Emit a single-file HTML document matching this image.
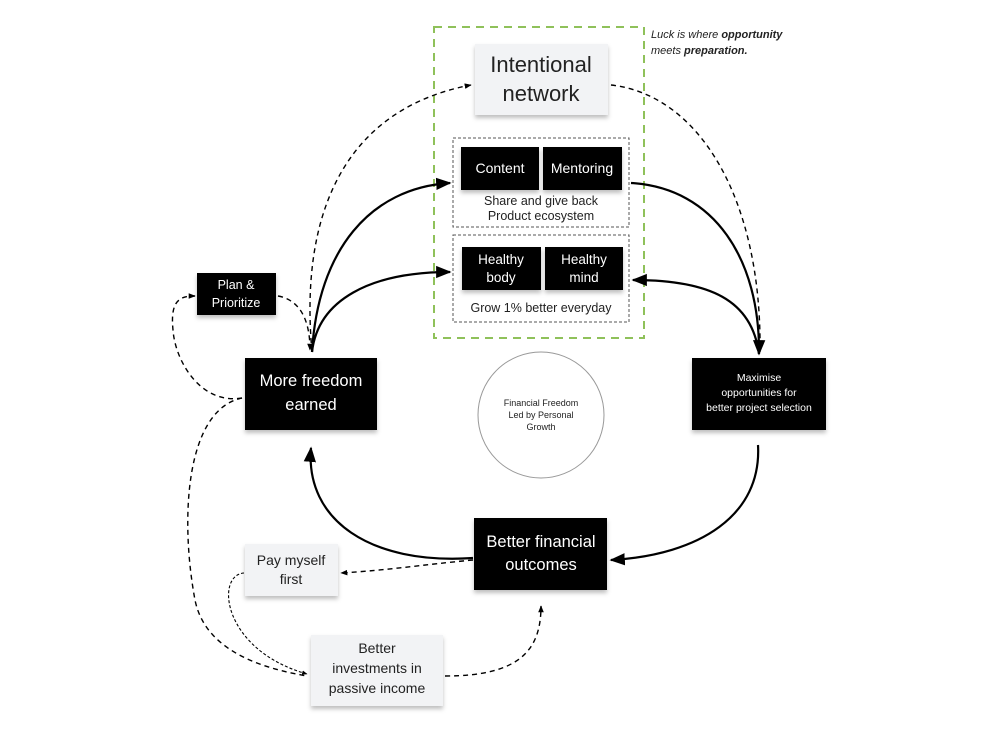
<!DOCTYPE html>
<html><head><meta charset="utf-8"><style>
html,body{margin:0;padding:0;background:#fff;}
svg{display:block;font-family:"Liberation Sans","DejaVu Sans",sans-serif;}
</style></head><body>
<svg width="1000" height="744" viewBox="0 0 1000 744" xmlns="http://www.w3.org/2000/svg">
<defs>
<marker id="a" viewBox="0 0 10 10" refX="9" refY="5" markerWidth="7" markerHeight="7" orient="auto-start-reverse"><path d="M0,1 L10,5 L0,9 z" fill="#000"/></marker>
<marker id="s" viewBox="0 0 10 10" refX="9" refY="5" markerWidth="5" markerHeight="5" orient="auto-start-reverse"><path d="M0,1 L10,5 L0,9 z" fill="#000"/></marker>
<filter id="sh" x="-10%" y="-10%" width="120%" height="140%"><feDropShadow dx="0" dy="3" stdDeviation="2" flood-color="#000" flood-opacity="0.25"/></filter>
</defs>

<!-- green dashed container -->
<rect x="434" y="27" width="210" height="311" fill="none" stroke="#8fc15a" stroke-width="2" stroke-dasharray="8,6"/>
<!-- gray dashed groups -->
<rect x="453" y="138" width="176" height="89" fill="none" stroke="#555" stroke-width="1" stroke-dasharray="3,2"/>
<rect x="453" y="235" width="176" height="87" fill="none" stroke="#555" stroke-width="1" stroke-dasharray="3,2"/>

<!-- connectors solid -->
<g fill="none" stroke="#000" stroke-width="2.2">
<path d="M312,352 C318,250 370,188 450,183" marker-end="url(#a)"/>
<path d="M312,352 C318,300 370,272 450,272" marker-end="url(#a)"/>
<path d="M631,183 C715,188 760,260 759,354" marker-end="url(#a)"/>
<path d="M759,354 C752,300 710,280 633,280" marker-end="url(#a)"/>
<path d="M758,445 C762,515 700,555 611,560" marker-end="url(#a)"/>
<path d="M473,558 C370,565 305,520 311,448" marker-end="url(#a)"/>
</g>
<!-- connectors dashed -->
<g fill="none" stroke="#000" stroke-width="1.4" stroke-dasharray="5,4">
<path d="M312,352 C300,220 340,110 471,85" marker-end="url(#s)"/>
<path d="M611,85 C700,95 762,200 760,352"/>
<path d="M278,296 C300,300 310,320 310,350" marker-end="url(#s)"/>
<path d="M242,398 C200,405 175,360 173,330 C170,300 180,296 195,296" marker-end="url(#s)"/>
<path d="M473,560 C420,565 390,570 341,573" marker-end="url(#s)"/>
<path d="M244,573 C215,575 222,650 307,674" marker-end="url(#s)" stroke-dasharray="3,2" stroke-width="1.1"/>
<path d="M242,398 C185,410 180,520 195,600 C205,650 260,668 307,676"/>
<path d="M445,676 C520,676 541,650 541,606" marker-end="url(#s)"/>
</g>

<!-- light boxes -->
<g filter="url(#sh)" fill="#f2f3f5">
<rect x="475" y="44" width="133" height="71"/>
<rect x="245" y="544" width="93" height="52"/>
<rect x="311" y="635" width="132" height="71"/>
</g>
<!-- black boxes -->
<g filter="url(#sh)" fill="#000">
<rect x="461" y="147" width="78" height="43"/>
<rect x="543" y="147" width="79" height="43"/>
<rect x="462" y="247" width="79" height="43"/>
<rect x="545" y="247" width="78" height="43"/>
<rect x="197" y="273" width="79" height="42"/>
<rect x="245" y="358" width="132" height="72"/>
<rect x="692" y="358" width="134" height="72"/>
<rect x="474" y="518" width="133" height="72"/>
</g>

<circle cx="541" cy="415" r="63" fill="#fff" stroke="#999" stroke-width="1"/>

<g text-anchor="middle" fill="#222">
<text x="541" y="72" font-size="22">Intentional</text>
<text x="541" y="101" font-size="22">network</text>
<text x="541" y="205" font-size="12.5">Share and give back</text>
<text x="541" y="220" font-size="12.5">Product ecosystem</text>
<text x="541" y="312" font-size="12.5">Grow 1% better everyday</text>
<text x="291" y="565" font-size="14">Pay myself</text>
<text x="291" y="584" font-size="14">first</text>
<text x="377" y="653" font-size="14">Better</text>
<text x="377" y="673" font-size="14">investments in</text>
<text x="377" y="693" font-size="14">passive income</text>
<text x="541" y="406" font-size="9">Financial Freedom</text>
<text x="541" y="418" font-size="9">Led by Personal</text>
<text x="541" y="430" font-size="9">Growth</text>
</g>
<g text-anchor="middle" fill="#fff">
<text x="500" y="173" font-size="14">Content</text>
<text x="582" y="173" font-size="14">Mentoring</text>
<text x="501" y="264" font-size="13.5">Healthy</text>
<text x="501" y="282" font-size="13.5">body</text>
<text x="584" y="264" font-size="13.5">Healthy</text>
<text x="584" y="282" font-size="13.5">mind</text>
<text x="236" y="289" font-size="12.5">Plan &amp;</text>
<text x="236" y="307" font-size="12.5">Prioritize</text>
<text x="311" y="386" font-size="16.5">More freedom</text>
<text x="311" y="410" font-size="16.5">earned</text>
<text x="759" y="381" font-size="10.5">Maximise</text>
<text x="759" y="396" font-size="10.5">opportunities for</text>
<text x="759" y="411" font-size="10.5">better project selection</text>
<text x="541" y="547" font-size="16.5">Better financial</text>
<text x="541" y="570" font-size="16.5">outcomes</text>
</g>
<g font-size="11" font-style="italic" fill="#222">
<text x="651" y="38">Luck is where <tspan font-weight="bold">opportunity</tspan></text>
<text x="651" y="54">meets <tspan font-weight="bold">preparation.</tspan></text>
</g>
</svg>
</body></html>
